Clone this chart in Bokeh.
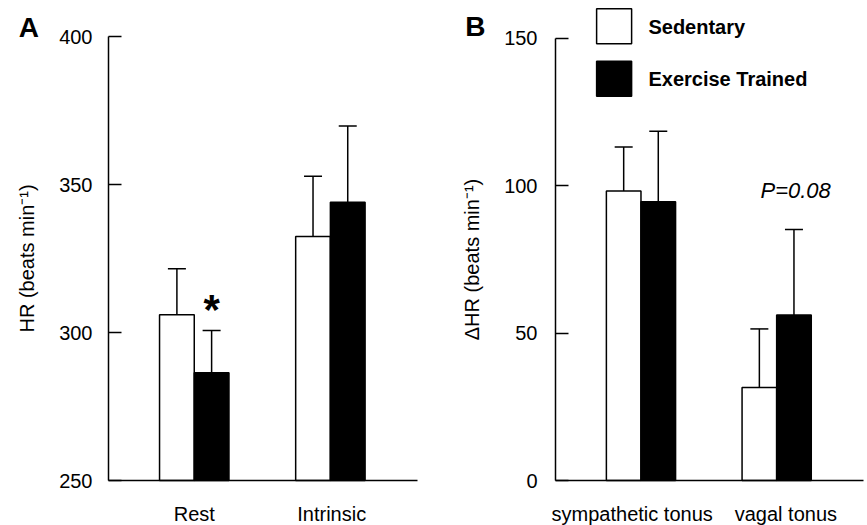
from bokeh.plotting import figure
from bokeh.layouts import row
from bokeh.models import (Range1d, FixedTicker, Whisker, TeeHead, ColumnDataSource,
                          LinearAxis)
from bokeh.core.properties import value
from bokeh.embed import file_html
from bokeh.resources import INLINE

# ---- data ----
cats_a = ["Rest", "Intrinsic"]
sed_a = [306.0, 332.4]
sed_a_sem = [15.5, 20.4]
tr_a = [286.4, 344.0]
tr_a_sem = [14.3, 25.8]

cats_b = ["sympathetic tonus", "vagal tonus"]
sed_b = [98.2, 31.5]
sed_b_sem = [14.9, 19.9]
tr_b = [94.5, 56.1]
tr_b_sem = [23.9, 29.0]

yticks_a = [250, 300, 350, 400]
yticks_b = [0, 50, 100, 150]
legend_labels = ["Sedentary", "Exercise Trained"]

FONT = "Liberation Sans"
BW = 0.255
X0, X1 = 0.37, 2.64          # axis extent in x data units
H = 525
BASE_PX = 480                # pixel row of the x axis


def make_panel(width, axis_px, frame_w, ybase, ppu, cats, sed, sed_sem, tr, tr_sem,
               yticks, ylabel, label_std, label_shift):
    xppu = frame_w / (X1 - X0)
    xr = Range1d(X0 - axis_px / xppu, X0 + (width - axis_px) / xppu)
    yr = Range1d(ybase - (H - BASE_PX) / ppu, ybase + BASE_PX / ppu)
    p = figure(width=width, height=H, output_backend="svg", toolbar_location=None,
               x_range=xr, y_range=yr, x_axis_location=None, y_axis_location=None,
               min_border=0)
    p.outline_line_color = None
    p.grid.visible = False
    p.background_fill_color = "white"
    p.border_fill_color = "white"

    pos = [i + 1 for i in range(len(cats))]
    xs = [x - BW / 2 for x in pos]
    xt = [x + BW / 2 for x in pos]
    s1 = ColumnDataSource(dict(x=xs, m=sed, up=[m + e for m, e in zip(sed, sed_sem)]))
    s2 = ColumnDataSource(dict(x=xt, m=tr, up=[m + e for m, e in zip(tr, tr_sem)]))
    p.vbar(x="x", top="m", bottom=ybase, width=BW, source=s1, fill_color="white",
           line_color="black", line_width=1.5)
    p.vbar(x="x", top="m", bottom=ybase, width=BW, source=s2, fill_color="black",
           line_color="black", line_width=1.5)
    for s in (s1, s2):
        p.add_layout(Whisker(source=s, base="x", lower="m", upper="up", dimension="height",
                             line_color="black", line_width=1.5, lower_head=None,
                             upper_head=TeeHead(size=18, line_width=1.5, line_color="black")))

    yax = LinearAxis(fixed_location=X0)
    yax.ticker = FixedTicker(ticks=yticks)
    yax.bounds = (yticks[0], yticks[-1])
    yax.major_tick_in = 13
    yax.major_tick_out = 0
    yax.minor_tick_line_color = None
    yax.axis_line_width = 1.5
    yax.major_tick_line_width = 1.5
    yax.major_label_text_font = FONT
    yax.major_label_text_font_size = "20px"
    yax.major_label_text_color = "black"
    yax.major_label_standoff = label_std
    yax.axis_label = ylabel
    yax.axis_label_text_font = FONT
    yax.axis_label_text_font_size = "20px"
    yax.axis_label_text_font_style = "normal"
    yax.axis_label_text_color = "black"
    yax.axis_label_standoff = 18
    p.add_layout(yax, "left")

    lab_pos = [x + d for x, d in zip(pos, label_shift)]
    xax = LinearAxis(fixed_location=ybase)
    xax.ticker = FixedTicker(ticks=lab_pos)
    xax.bounds = (X0, X1)
    xax.major_label_overrides = {x: c for x, c in zip(lab_pos, cats)}
    xax.major_tick_in = 0
    xax.major_tick_out = 0
    xax.minor_tick_line_color = None
    xax.axis_line_width = 1.5
    xax.major_label_text_font = FONT
    xax.major_label_text_font_size = "20px"
    xax.major_label_text_color = "black"
    xax.major_label_standoff = 22
    p.add_layout(xax, "below")
    return p


pA = make_panel(440, 108, 309, 250, 2.96, cats_a, sed_a, sed_a_sem, tr_a, tr_a_sem,
                yticks_a, "HR (beats min\u207b\u00b9)", 16, [0.0, 0.01])
pB = make_panel(427, 115, 308, 0, 2.949, cats_b, sed_b, sed_b_sem, tr_b, tr_b_sem,
                yticks_b, "\u0394HR (beats min\u207b\u00b9)", 18, [-0.065, 0.068])

# asterisk over trained Rest bar
pA.text(x=[1 + BW / 2], y=[tr_a[0] + tr_a_sem[0] + 7.2], text=["*"],
        text_font=value(FONT), text_font_size="42px", text_font_style="bold",
        text_align="center", text_baseline="middle", text_color="black")

# P value over vagal tonus
pB.text(x=[2.14], y=[98.3], text=["P=0.08"], text_font=value(FONT),
        text_font_size="22px", text_font_style="italic", text_align="center",
        text_baseline="middle", text_color="black")

# legend
pB.rect(x=[0.802, 0.802], y=[154.0, 136.2], width=35, height=35, width_units="screen",
        height_units="screen", fill_color=["white", "black"], line_color="black",
        line_width=1.5)
pB.text(x=[1.055, 1.055], y=[153.9, 136.0], text=legend_labels, text_font=value(FONT),
        text_font_size="20px", text_font_style="bold", text_align="left",
        text_baseline="middle", text_color="black")

# panel letters
pA.text(x=[-0.29], y=[402.9], text=["A"], text_font=value(FONT), text_font_size="28px",
        text_font_style="bold", text_align="left", text_baseline="middle",
        text_color="black")
pB.text(x=[-0.295], y=[153.9], text=["B"], text_font=value(FONT), text_font_size="28px",
        text_font_style="bold", text_align="left", text_baseline="middle",
        text_color="black")

layout = row(pA, pB)
open("out.html", "w").write(file_html(layout, INLINE))
